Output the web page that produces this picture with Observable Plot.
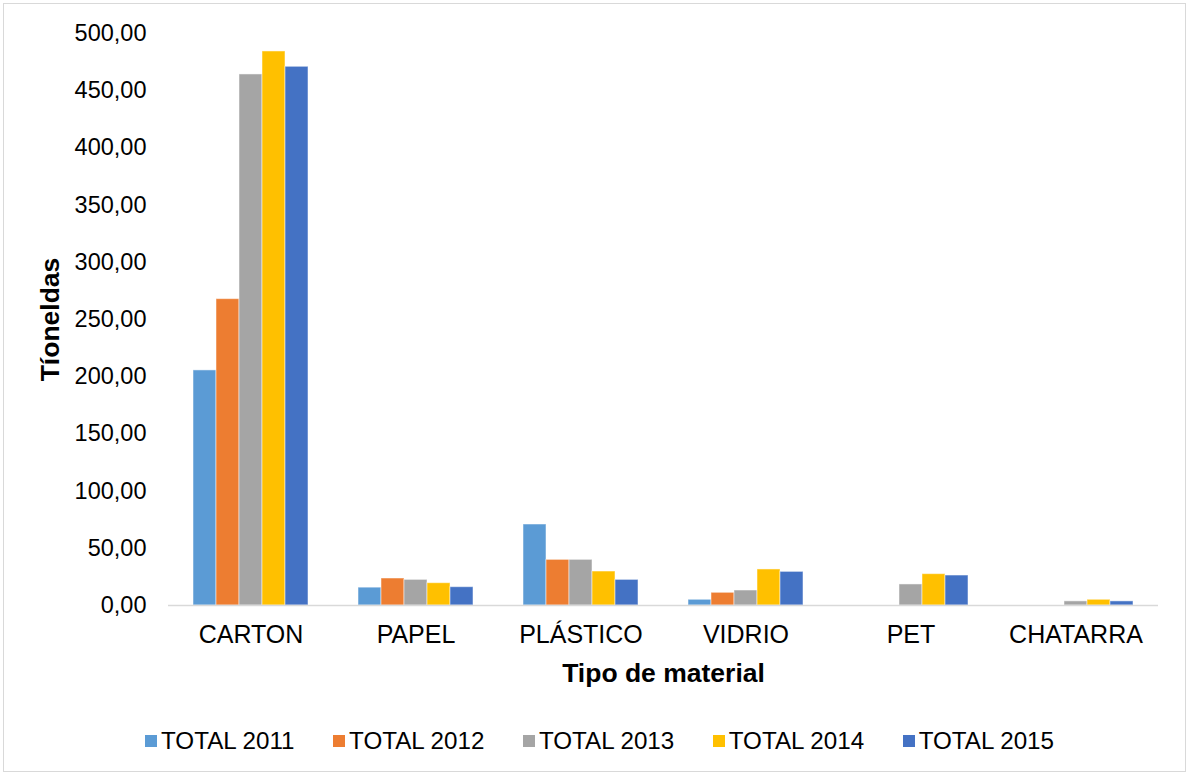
<!DOCTYPE html>
<html><head><meta charset="utf-8">
<script src="https://cdn.jsdelivr.net/npm/d3@7"></script>
<script src="https://cdn.jsdelivr.net/npm/@observablehq/plot@0.6"></script>
<style>
body{margin:0;background:#fff;}
#frame{position:absolute;left:3px;top:3px;width:1181px;height:767px;border:1px solid #d9d9d9;}
#chart{position:absolute;left:0;top:0;}
#legend{position:absolute;top:727px;left:145px;display:flex;font-family:Arial,"Liberation Sans",sans-serif;font-size:24.2px;color:#000;white-space:nowrap;}
#legend .item{display:flex;align-items:center;margin-right:38.5px;}
#legend .sw{width:12px;height:12px;margin-right:4px;}
g[aria-label="y-axis label"] text, g[aria-label="fx-axis label"] text{font-weight:bold;font-size:26.5px;}
</style>
</head><body>
<div id="frame"></div>
<div id="chart"></div>
<div id="legend"></div>
<script>
const categories = ["CARTON","PAPEL","PLÁSTICO","VIDRIO","PET","CHATARRA"];
const series = ["TOTAL 2011","TOTAL 2012","TOTAL 2013","TOTAL 2014","TOTAL 2015"];
const colors = ["#5B9BD5","#ED7D31","#A5A5A5","#FFC000","#4472C4"];
const values2011 = [205.5, 15.6, 70.8, 5.0, 0, 0];
const values2012 = [267.8, 23.6, 39.9, 11.1, 0, 0];
const values2013 = [464.2, 22.4, 39.9, 13.1, 18.4, 3.6];
const values2014 = [484.3, 19.5, 29.7, 31.5, 27.4, 5.0];
const values2015 = [470.9, 16.0, 22.4, 29.4, 26.2, 3.6];
const yTicks = [0,50,100,150,200,250,300,350,400,450,500];

const allValues = [values2011, values2012, values2013, values2014, values2015];
const data = [];
categories.forEach((c, i) => series.forEach((s, j) => data.push({category: c, series: s, value: allValues[j][i]})));

const font = 'Arial, "Liberation Sans", sans-serif';
const chart = Plot.plot({
  width: 1189, height: 700,
  marginTop: 33, marginBottom: 95, marginLeft: 168, marginRight: 31,
  style: {fontFamily: font, fontSize: "23px", color: "#000", background: "transparent"},
  fx: {domain: categories, padding: 0, label: null, round: false},
  x: {domain: series, padding: 0, insetLeft: 25, insetRight: 25, round: false, axis: null},
  y: {domain: [0, 500]},
  color: {domain: series, range: colors},
  marks: [
    Plot.barY(data, {fx: "category", x: "series", y: "value", fill: "series", stroke: "white", strokeOpacity: 0.5, strokeWidth: 1}),
    Plot.ruleY([0], {stroke: "#d9d9d9", strokeWidth: 1.5}),
    Plot.axisY({ticks: yTicks, tickSize: 0, tickPadding: 22, fontSize: 23.5,
      tickFormat: d => d.toFixed(2).replace(".", ","),
      label: "Tíoneldas", labelAnchor: "center", labelOffset: 128, labelArrow: "none"}),
    Plot.axisFx({anchor: "bottom", tickSize: 0, tickPadding: 20, fontSize: 25,
      label: "Tipo de material", labelAnchor: "center", labelOffset: 76, labelArrow: "none"})
  ]
});
document.getElementById("chart").appendChild(chart);

const legend = document.getElementById("legend");
series.forEach((s, i) => {
  const item = document.createElement("div");
  item.className = "item";
  const sw = document.createElement("div");
  sw.className = "sw";
  sw.style.background = colors[i];
  const t = document.createElement("span");
  t.textContent = s;
  item.appendChild(sw); item.appendChild(t);
  legend.appendChild(item);
});
</script>
</body></html>
